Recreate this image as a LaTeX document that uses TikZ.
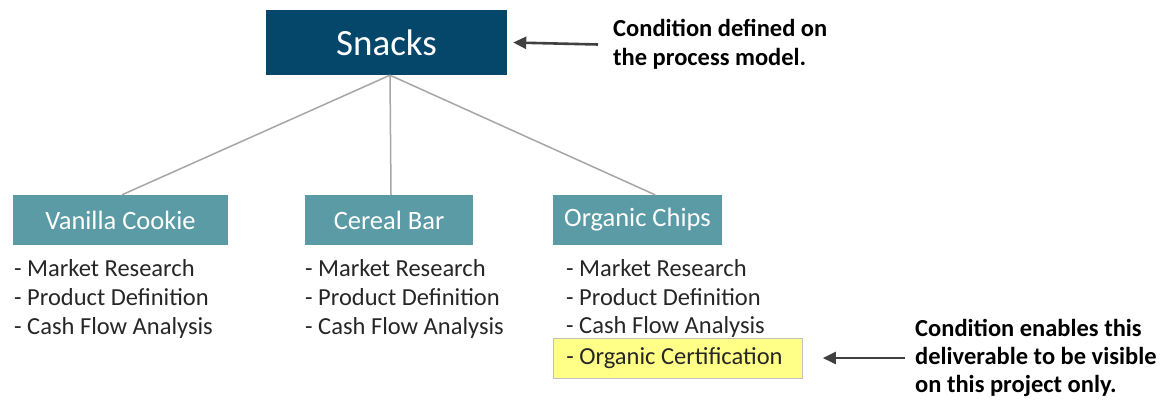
\documentclass[tikz,border=0pt]{standalone}
\usepackage{fontspec}
\setmainfont{Carlito}
\usetikzlibrary{arrows.meta}
\definecolor{navy}{HTML}{05476B}
\definecolor{tealbox}{HTML}{5A9BA6}
\definecolor{linegray}{HTML}{A6A6A6}
\definecolor{arrowgray}{HTML}{404040}
\definecolor{hl}{HTML}{FFFF88}
\definecolor{txt}{HTML}{262626}
\tikzset{
  topbox/.style={fill=navy, draw=none, text=white, minimum width=241pt, minimum height=65pt, inner sep=0pt, font=\fontsize{37}{40}\selectfont},
  prodbox/.style={fill=tealbox, draw=none, text=white, minimum height=50pt, inner sep=0pt, font=\fontsize{26.5}{30}\selectfont},
  listtxt/.style={anchor=west, align=left, inner sep=0pt, text=txt, font=\fontsize{24.5}{29}\selectfont},
  note/.style={anchor=west, align=left, inner sep=0pt, text=black, font=\bfseries\fontsize{24.5}{29}\selectfont},
  link/.style={draw=linegray, line width=1.5pt},
  pointer/.style={draw=arrowgray, line width=2.6pt, -{Triangle[length=13pt,width=12pt]}},
}
\begin{document}
\begin{tikzpicture}[x=1pt,y=-1pt]
\useasboundingbox (0,0) rectangle (1161,399);
\node[topbox] (snacks) at (386.5,42.5) {Snacks};
\node[prodbox, minimum width=215pt] (vanilla) at (120.5,220) {Vanilla Cookie};
\node[prodbox, minimum width=168pt] (cereal) at (389,220) {Cereal Bar};
\node[prodbox, minimum width=169pt] (organic) at (637.5,220) {Organic Chips};
\draw[link] ([xshift=3.5pt]snacks.south) -- ([xshift=1.5pt]vanilla.north);
\draw[link] ([xshift=3.5pt]snacks.south) -- ([xshift=2pt]cereal.north);
\draw[link] ([xshift=3.5pt]snacks.south) -- ([xshift=17.5pt]organic.north);
\node[listtxt] (vlist) at (14,299) {- Market Research\\- Product Definition\\- Cash Flow Analysis};
\node[listtxt] (clist) at (305,299) {- Market Research\\- Product Definition\\- Cash Flow Analysis};
\node[listtxt, font=\fontsize{24.5}{28.5}\selectfont] (olist) at (566,298.5) {- Market Research\\- Product Definition\\- Cash Flow Analysis};
\node[anchor=west, fill=hl, draw=linegray!70, line width=0.8pt, minimum height=40pt, inner xsep=13pt, inner ysep=0pt, text=txt, font=\fontsize{24.5}{29}\selectfont] (cert) at (553,358) {\makebox[223pt][l]{- Organic Certification}};
\node[note] (note1) at (613,44.5) {Condition defined on\\the process model.};
\node[note, font=\bfseries\fontsize{24.5}{28}\selectfont] (note2) at (915,358) {Condition enables this\\deliverable to be visible\\on this project only.};
\draw[pointer] ([xshift=-15pt]note1.west) -- ([xshift=6pt]snacks.east);
\draw[pointer] ([xshift=-10pt]note2.west) -- ([xshift=20pt]cert.east);
\end{tikzpicture}
\end{document}
